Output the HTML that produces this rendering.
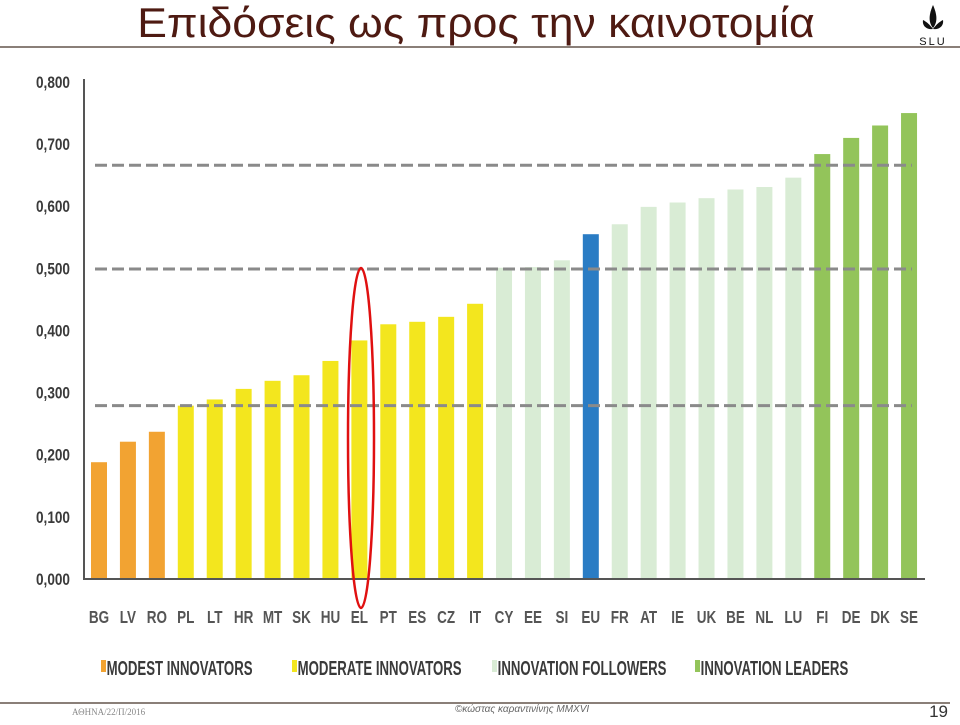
<!DOCTYPE html>
<html><head><meta charset="utf-8"><style>
body{margin:0;background:#fff;width:960px;height:720px;overflow:hidden;font-family:"Liberation Sans","DejaVu Sans",sans-serif}
</style></head><body>
<svg width="960" height="720">
<text x="476" y="37" text-anchor="middle" font-size="42" fill="#4e1a12" font-family="Liberation Sans, DejaVu Sans, sans-serif" transform="translate(476 0) scale(1.06 1) translate(-476 0)">Επιδόσεις ως προς την καινοτομία</text>
<g>
<path d="M933 5 C929 14 928 22 933 28 C938 22 937 14 933 5Z" fill="#111"/>
<path d="M923 20 C922 26 927 30 933 29 C930 25 927 22 923 20Z M943 20 C944 26 939 30 933 29 C936 25 939 22 943 20Z" fill="#111"/>
<text x="933" y="45" text-anchor="middle" font-size="11" fill="#111" letter-spacing="2">SLU</text>
</g>
<line x1="0" y1="47" x2="960" y2="47" stroke="#8a7f78" stroke-width="2"/>
<g id="chart"></g>
<line x1="0" y1="703" x2="950" y2="703" stroke="#8a7f78" stroke-width="2"/>
<text x="72" y="715" font-size="9" fill="#888" font-family="Liberation Serif, serif">ΑΘΗΝΑ/22/Π/2016</text>
<text x="455" y="712" font-size="10" fill="#666" font-style="italic">©κώστας καραντινίνης MMXVI</text>
<text x="948" y="717" text-anchor="end" font-size="17" fill="#333">19</text>
</svg>
<script>
const categories=["BG","LV","RO","PL","LT","HR","MT","SK","HU","EL","PT","ES","CZ","IT","CY","EE","SI","EU","FR","AT","IE","UK","BE","NL","LU","FI","DE","DK","SE"];
const values=[0.188,0.221,0.237,0.279,0.289,0.306,0.319,0.328,0.351,0.384,0.410,0.414,0.422,0.443,0.501,0.502,0.513,0.555,0.571,0.599,0.606,0.613,0.627,0.631,0.646,0.684,0.710,0.730,0.750];
const groups=["m","m","m","d","d","d","d","d","d","d","d","d","d","d","f","f","f","eu","f","f","f","f","f","f","f","l","l","l","l"];
const yTicks=[0,0.1,0.2,0.3,0.4,0.5,0.6,0.7,0.8];
const yTickLabels=["0,000","0,100","0,200","0,300","0,400","0,500","0,600","0,700","0,800"];
const refLines=[0.666,0.499,0.279];
const legendLabels=["MODEST INNOVATORS","MODERATE INNOVATORS","INNOVATION FOLLOWERS","INNOVATION LEADERS"];
const colors={m:"#f2a332",d:"#f3e61e",f:"#d9ecd5",eu:"#2a7cc4",l:"#93c45a"};
const legendColors=[colors.m,colors.d,colors.f,colors.l];
const ns="http://www.w3.org/2000/svg",g=document.getElementById("chart");
const y=v=>579-v*621.25, x=i=>99+i*28.93;
function mk(t,a,txt){const e=document.createElementNS(ns,t);for(const k in a)e.setAttribute(k,a[k]);if(txt!=null)e.textContent=txt;g.appendChild(e);return e;}
const font="Liberation Sans Narrow, Liberation Sans, sans-serif";
yTicks.forEach((t,i)=>{const e=mk("text",{x:70,y:y(t)+6,"text-anchor":"end","font-size":17,"font-weight":"bold",fill:"#3a3a3a","font-family":font,transform:`translate(70 0) scale(0.8 1) translate(-70 0)`},yTickLabels[i]);

});
values.forEach((v,i)=>{const r=mk("rect",{x:x(i)-8,y:y(v),width:16,height:579-y(v),fill:colors[groups[i]]});


const t=mk("text",{x:x(i),y:623,"text-anchor":"middle","font-size":18,"font-weight":"bold",fill:"#555","font-family":font,transform:`translate(${x(i)} 0) scale(0.75 1) translate(${-x(i)} 0)`},categories[i]);

});
refLines.forEach(v=>{const l=mk("line",{x1:95,x2:912,y1:y(v),y2:y(v),stroke:"#8a8a8a","stroke-width":3,"stroke-dasharray":"12 5"});

});
const ax=mk("path",{d:"M84 79 V579 H925",fill:"none",stroke:"#555","stroke-width":2});


const el=mk("ellipse",{cx:361,cy:438,rx:13,ry:170,fill:"none",stroke:"#e01010","stroke-width":2.5});


const lx=[106,297,497,700];
legendLabels.forEach((s,i)=>{const r=mk("rect",{x:lx[i]-5,y:660,width:5,height:12,fill:legendColors[i]});


const t=mk("text",{x:lx[i]+1,y:675,"font-size":20,"font-weight":"bold",fill:"#3a3a3a","font-family":font,transform:`translate(${lx[i]} 0) scale(0.66 1) translate(${-lx[i]} 0)`},s);

});
</script>
</body></html>
